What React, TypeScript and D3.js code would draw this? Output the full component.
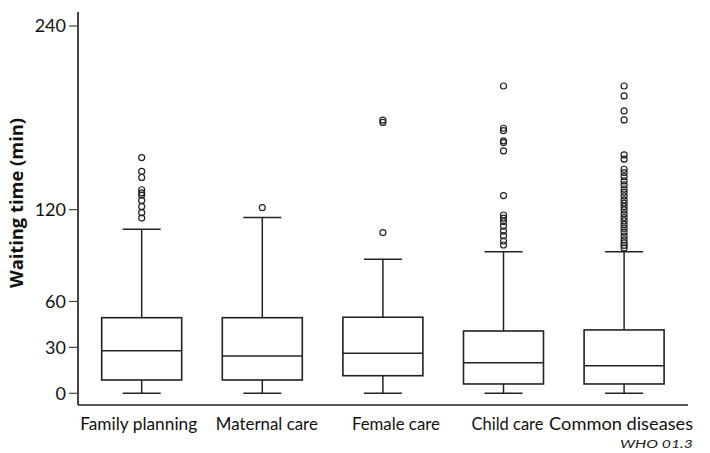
import React from "react";
import * as d3 from "d3";

const categories = ["Family planning", "Maternal care", "Female care", "Child care", "Common diseases"];
const mins = [0, 0, 0, 0, 0];
const q1s = [8.7, 8.7, 11.5, 6.1, 6.1];
const medians = [27.8, 24.4, 26.1, 20, 18];
const q3s = [49.4, 49.4, 49.7, 40.7, 41.4];
const whiskerTops = [107.2, 114.8, 87.6, 92.5, 92.5];
const outliers: number[][] = [
  [154, 145, 141, 133, 131, 129.5, 126, 122, 118, 114.5],
  [121.3],
  [105, 177, 178.5],
  [200.8, 173.2, 171.6, 165, 163.8, 158.4, 129.2, 116.5, 114.4, 112.2, 109.3, 106, 103, 99.5, 96.9],
  [200.8, 194.3, 184.5, 178.6, 155.8, 153, 146.4, 144.2, 141.6, 138.8, 136.2, 133.5, 131.3, 129, 126.4, 124.2, 122, 119.8, 117.2, 114.8, 112.6, 110.2, 107.7, 105.3, 102.7, 100.3, 98.2, 96.6, 95],
];
const yTicks = [0, 30, 60, 120, 240];

// layout constants for the category labels (width and horizontal nudge)
const LABEL_WIDTHS = [117, 102, 88, 72, 144];
const LABEL_SHIFTS = [-3, 4.5, 13, 4, -3];

export default function App() {
  const W = 710, H = 453;
  const y = d3.scaleLinear().domain([0, 240]).range([393.3, 26]);
  const x = d3.scaleBand<string>().domain(categories).range([81.4, 684.4]).padding(0);
  const boxW = 80;
  const capW = 38;
  const font = "Lato, 'Open Sans', sans-serif";
  const stroke = "#222";
  return (
    <svg width={W} height={H} style={{ position: "absolute", left: 0, top: 0, background: "#fff" }}>
      <line x1={78} x2={78} y1={12} y2={405} stroke="#444" strokeWidth={2} />
      <line x1={78} x2={688} y1={405} y2={405} stroke="#222" strokeWidth={1.5} />
      {yTicks.map((t) => (
        <g key={t}>
          <line x1={69} x2={78} y1={y(t)} y2={y(t)} stroke="#444" strokeWidth={1.2} />
          <text x={66} y={y(t)} dy="0.35em" textAnchor="end" fontFamily={font} fontSize={18} fill="#111">
            {t}
          </text>
        </g>
      ))}
      <text
        transform="translate(23,203) rotate(-90)"
        textAnchor="middle"
        fontFamily="'Open Sans', sans-serif"
        fontWeight="bold"
        fontSize={17}
        textLength={170}
        lengthAdjust="spacingAndGlyphs"
        fill="#111"
      >
        Waiting time (min)
      </text>
      {categories.map((c, i) => {
        const cx = (x(c) as number) + x.bandwidth() / 2;
        return (
          <g key={c}>
            <line x1={cx} x2={cx} y1={y(whiskerTops[i])} y2={y(q3s[i])} stroke={stroke} strokeWidth={1.5} />
            <line x1={cx} x2={cx} y1={y(q1s[i])} y2={y(mins[i])} stroke={stroke} strokeWidth={1.5} />
            <line x1={cx - capW / 2} x2={cx + capW / 2} y1={y(whiskerTops[i])} y2={y(whiskerTops[i])} stroke={stroke} strokeWidth={1.5} />
            <line x1={cx - capW / 2} x2={cx + capW / 2} y1={y(mins[i])} y2={y(mins[i])} stroke={stroke} strokeWidth={1.5} />
            <rect x={cx - boxW / 2} y={y(q3s[i])} width={boxW} height={y(q1s[i]) - y(q3s[i])} fill="#fff" stroke={stroke} strokeWidth={1.6} />
            <line x1={cx - boxW / 2} x2={cx + boxW / 2} y1={y(medians[i])} y2={y(medians[i])} stroke={stroke} strokeWidth={1.5} />
            {outliers[i].map((v, k) => (
              <circle key={k} cx={cx} cy={y(v)} r={3} fill="none" stroke={stroke} strokeWidth={1.2} />
            ))}
            <text
              x={cx + LABEL_SHIFTS[i]}
              y={430}
              textAnchor="middle"
              fontFamily={font}
              fontSize={18}
              textLength={LABEL_WIDTHS[i]}
              lengthAdjust="spacingAndGlyphs"
              fill="#111"
            >
              {c}
            </text>
          </g>
        );
      })}
      <text x={693} y={448} textAnchor="end" fontFamily={font} fontStyle="italic" fontSize={11} fill="#222" textLength={73} lengthAdjust="spacingAndGlyphs">
        WHO 01.3
      </text>
    </svg>
  );
}
